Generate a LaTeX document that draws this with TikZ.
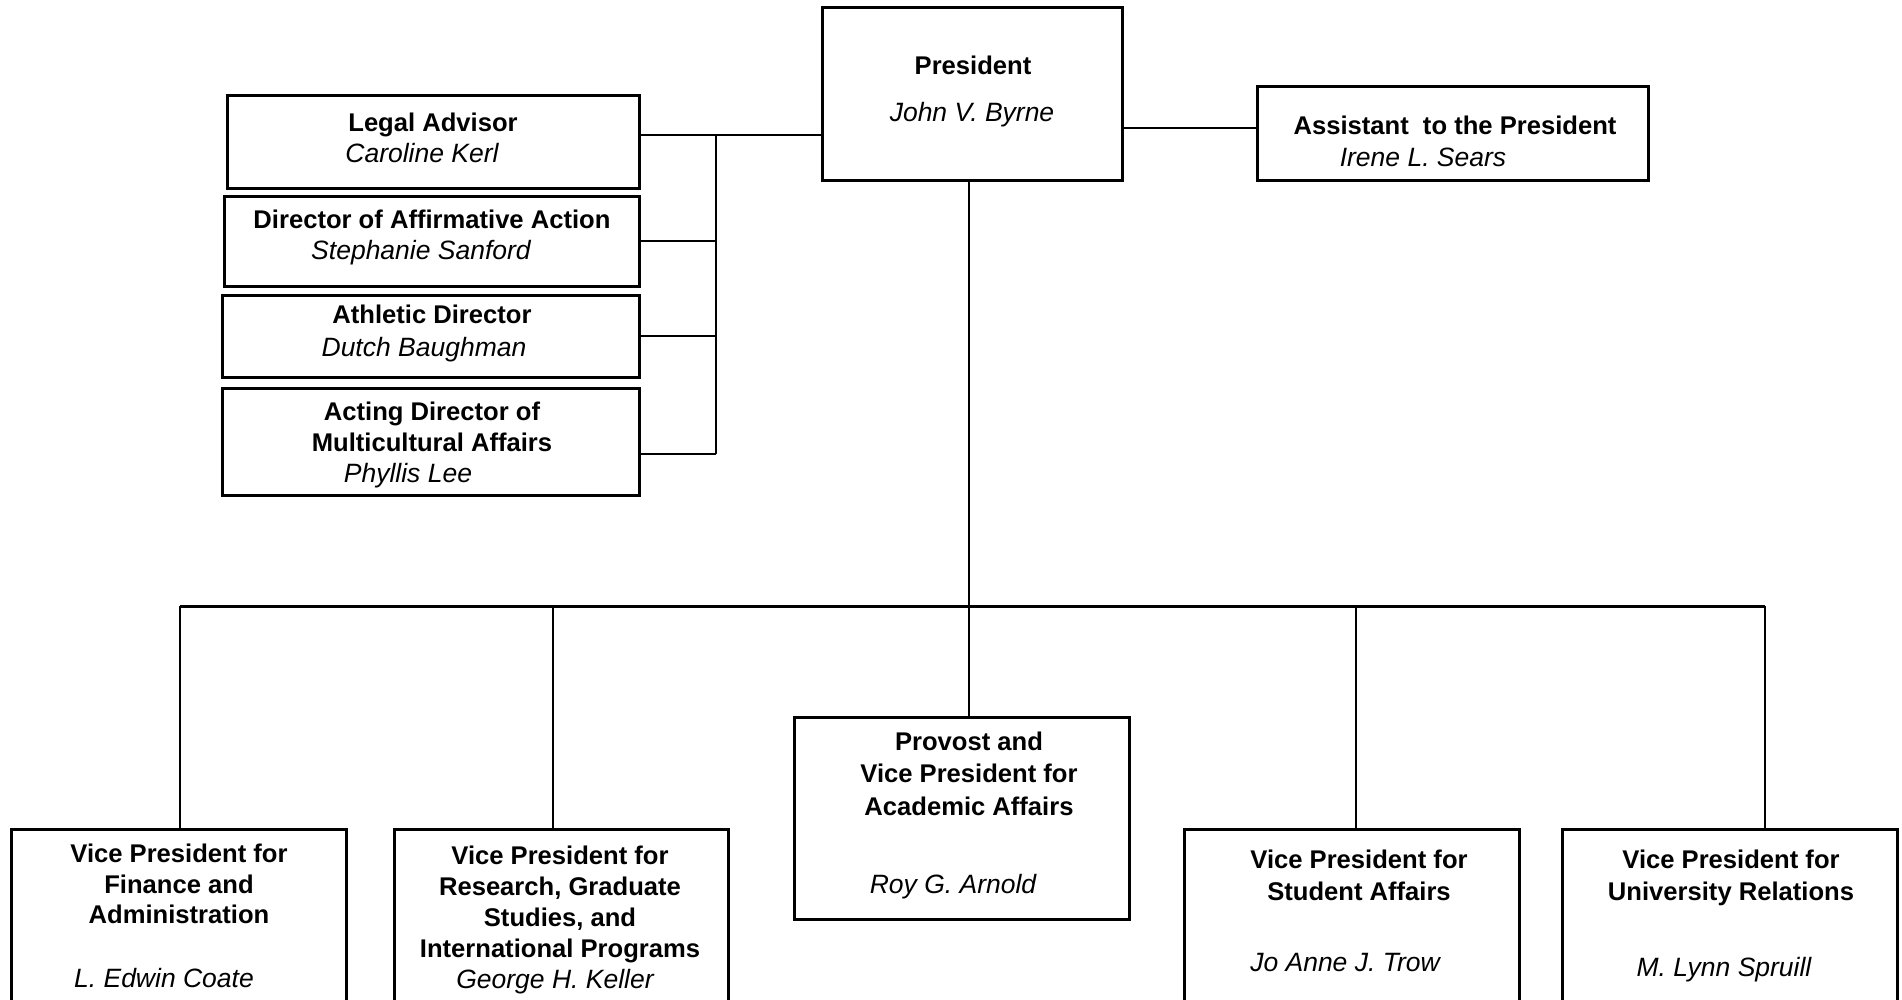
\documentclass[tikz,border=0pt]{standalone}
\usepackage{fontspec}
\setmainfont{Liberation Sans}
\begin{document}
\begin{tikzpicture}[x=1pt,y=-1pt,
  box/.style={draw, line width=3pt, inner sep=0pt},
  conn/.style={line width=2pt},
  busline/.style={line width=3pt},
  ttl/.style={font=\fontsize{25.6}{30}\selectfont\bfseries, anchor=base, inner sep=0pt},
  nm/.style={font=\fontsize{26.5}{30}\selectfont\itshape, anchor=base, inner sep=0pt}]
\clip (0,0) rectangle (1902,1000);
\fill[white] (0,0) rectangle (1902,1000);

% boxes
\node[box, minimum width=300pt, minimum height=173pt] (pres) at (972,94.5) {};
\node[box, minimum width=391pt, minimum height=94pt] (asst) at (1452.5,134) {};
\node[box, minimum width=412pt, minimum height=93pt] (legal) at (433,142.5) {};
\node[box, minimum width=415pt, minimum height=89pt] (aa) at (431.5,241.5) {};
\node[box, minimum width=417pt, minimum height=82pt] (ath) at (430.5,336) {};
\node[box, minimum width=417pt, minimum height=107pt] (mca) at (430.5,441.5) {};
\node[box, minimum width=335pt, minimum height=202pt] (prov) at (961.5,818) {};
\node[box, minimum width=335pt, minimum height=191pt] (fin) at (178.5,924.5) {};
\node[box, minimum width=334pt, minimum height=191pt] (res) at (561,924.5) {};
\node[box, minimum width=335pt, minimum height=191pt] (stu) at (1351.5,924.5) {};
\node[box, minimum width=335pt, minimum height=191pt] (uni) at (1729.5,924.5) {};

% texts
\node[ttl] (pres-t) at (973,74.5) {President};
\node[nm] (pres-n) at (972,121.5) {John V. Byrne};
\node[ttl] (asst-t) at (1455,134.5) {Assistant~ to the President};
\node[nm] (asst-n) at (1423,167) {Irene L. Sears};
\node[ttl] (legal-t) at (433,131.5) {Legal Advisor};
\node[nm] (legal-n) at (422,162.5) {Caroline Kerl};
\node[ttl] (aa-t) at (432,228.5) {Director of Affirmative Action};
\node[nm] (aa-n) at (421,259.5) {Stephanie Sanford};
\node[ttl] (ath-t) at (432,323.5) {Athletic Director};
\node[nm] (ath-n) at (424,356.5) {Dutch Baughman};
\node[ttl] (mca-t1) at (432,420.5) {Acting Director of};
\node[ttl] (mca-t2) at (432,451.5) {Multicultural Affairs};
\node[nm] (mca-n) at (408,482.5) {Phyllis Lee};
\node[ttl] (prov-t1) at (969,750.5) {Provost and};
\node[ttl] (prov-t2) at (969,782.5) {Vice President for};
\node[ttl] (prov-t3) at (969,815.5) {Academic Affairs};
\node[nm] (prov-n) at (953,893.5) {Roy G. Arnold};
\node[ttl] (fin-t1) at (179,862) {Vice President for};
\node[ttl] (fin-t2) at (179,893) {Finance and};
\node[ttl] (fin-t3) at (179,923.5) {Administration};
\node[nm] (fin-n) at (164,987) {L. Edwin Coate};
\node[ttl] (res-t1) at (560,864) {Vice President for};
\node[ttl] (res-t2) at (560,895) {Research, Graduate};
\node[ttl] (res-t3) at (560,926) {Studies, and};
\node[ttl] (res-t4) at (560,957) {International Programs};
\node[nm] (res-n) at (555,988) {George H. Keller};
\node[ttl] (stu-t1) at (1359,868.5) {Vice President for};
\node[ttl] (stu-t2) at (1359,900.5) {Student Affairs};
\node[nm] (stu-n) at (1345,971.5) {Jo Anne J. Trow};
\node[ttl] (uni-t1) at (1731,868.5) {Vice President for};
\node[ttl] (uni-t2) at (1731,900.5) {University Relations};
\node[nm] (uni-n) at (1724,976.5) {M. Lynn Spruill};

% connector coordinates
\coordinate (bj) at (716,135);
\coordinate (bb) at (716,454);
\coordinate (ay) at (1190,128);
\coordinate (trunk) at (969,606);
\coordinate (d1) at (180,606);
\coordinate (d2) at (553,606);
\coordinate (d4) at (1356,606);
\coordinate (d5) at (1765,606);

% staff bracket
\draw[conn] (legal.east |- bj) -- (pres.west |- bj);
\draw[conn] (bj) -- (bb);
\draw[conn] (aa.east) -- (aa.east -| bj);
\draw[conn] (ath.east) -- (ath.east -| bj);
\draw[conn] (mca.east |- bb) -- (bb);
\draw[conn] (pres.east |- ay) -- (asst.west |- ay);

% trunk and bus
\draw[conn] (pres.south -| trunk) -- (prov.north -| trunk);
\draw[busline] (d1) -- (d5);
\draw[conn] (d1) -- (d1 |- fin.north);
\draw[conn] (d2) -- (d2 |- res.north);
\draw[conn] (d4) -- (d4 |- stu.north);
\draw[conn] (d5) -- (d5 |- uni.north);
\end{tikzpicture}
\end{document}
